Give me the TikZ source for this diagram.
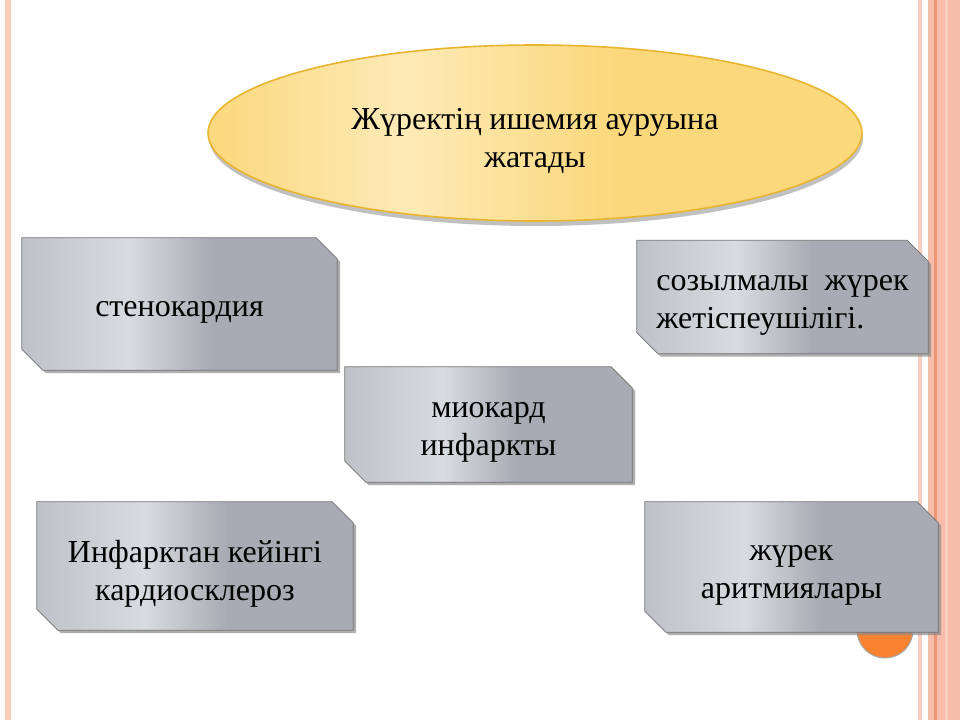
\documentclass[tikz,border=0pt]{standalone}
\usepackage{fontspec}
\setmainfont{Liberation Serif}
\usetikzlibrary{shadows, calc, backgrounds}

\definecolor{steeldark}{RGB}{168,171,179}
\definecolor{steellight}{RGB}{216,219,223}
\definecolor{steelmid}{RGB}{190,193,199}
\definecolor{goldfill}{RGB}{252,216,125}
\definecolor{goldlight}{RGB}{253,234,182}
\definecolor{goldedge}{RGB}{232,181,48}
\definecolor{salmon}{RGB}{246,190,170}
\definecolor{salmonlt}{RGB}{250,206,190}
\definecolor{salmondk}{RGB}{238,150,115}
\definecolor{dotorange}{RGB}{250,131,49}

\pgfdeclarehorizontalshading{steel}{100bp}{color(0bp)=(steelmid); color(25bp)=(steelmid); color(42bp)=(steellight); color(55bp)=(steeldark); color(100bp)=(steeldark)}
\pgfdeclarehorizontalshading{gold}{100bp}{color(0bp)=(goldfill); color(25bp)=(goldfill); color(40bp)=(goldlight); color(56bp)=(goldfill); color(100bp)=(goldfill)}

\tikzset{
  boxtext/.style={rectangle, align=center, inner sep=0pt, font=\fontsize{32}{38}\selectfont},
  snipshade/.style={shading=steel, draw=black!55, line width=0.8pt,
    drop shadow={shadow xshift=3pt, shadow yshift=-3pt, fill=black!45, opacity=0.7}},
  topoval/.style={shading=gold, draw=goldedge, line width=1.6pt,
    drop shadow={shadow xshift=1pt, shadow yshift=-5pt, fill=black!40, opacity=0.6}}
}

% box with snipped top-right and bottom-left corners round a node, raised a little
\newcommand\snipround[1]{
  \path[snipshade] ($(#1.north west)+(0,-8)$) -- ($(#1.north east)+(-21,-8)$)
    -- ($(#1.north east)+(0,13)$) -- ($(#1.south east)+(0,-8)$) -- ($(#1.south west)+(21,-8)$)
    -- ($(#1.south west)+(0,-29)$) -- cycle;
}

\begin{document}
\begin{tikzpicture}[x=1pt,y=-1pt]
  \useasboundingbox (0,0) rectangle (960,720);

  \node[boxtext] (ishem) at (535,141) {Жүректің ишемия ауруына\\жатады};

  \node[boxtext, minimum width=315pt, minimum height=132pt] (stenok) at (179.5,312)
    {стенокардия};
  \node[boxtext, minimum width=291pt, minimum height=113pt, align=left] (sozylm) at (782.5,305)
    {созылмалы\ \ жүрек\\жетіспеушілігі.};
  \node[boxtext, minimum width=287pt, minimum height=115pt] (miokard) at (488.5,432.5)
    {миокард\\инфаркты};
  \node[boxtext, minimum width=316pt, minimum height=128pt] (infarkt) at (195,574)
    {Инфарктан кейінгі\\кардиосклероз};
  \node[boxtext, minimum width=293pt, minimum height=130pt] (aritm) at (791.5,575)
    {жүрек\\аритмиялары};

  \begin{scope}[on background layer]
    \fill[white] (0,0) rectangle (960,720);
    % slide borders
    \fill[salmonlt] (5,0) rectangle (11,720);
    \fill[salmonlt] (918,0) rectangle (922,720);
    \fill[salmon] (928,0) rectangle (960,720);
    \fill[salmondk] (934,0) rectangle (937,720);
    \fill[salmonlt] (945,0) rectangle (948,720);

    \path[topoval] ($(ishem)+(0,-8)$) ellipse [x radius=327, y radius=88];

    \snipround{stenok}
    \snipround{sozylm}
    \snipround{miokard}
    \snipround{infarkt}
    % orange dot under the last box
    \node[circle, fill=dotorange, draw=black!35, line width=1pt, minimum size=56pt] (dot) at (885,630) {};
    \snipround{aritm}
  \end{scope}
\end{tikzpicture}
\end{document}
